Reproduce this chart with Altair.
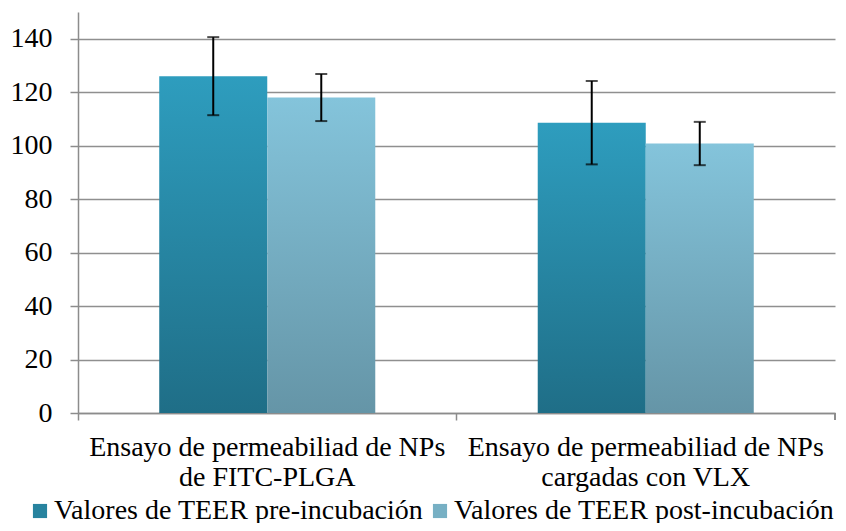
import altair as alt
import pandas as pd

categories = ["Ensayo de permeabiliad de NPs|de FITC-PLGA",
              "Ensayo de permeabiliad de NPs|cargadas con VLX"]
series = ["Valores de TEER pre-incubación", "Valores de TEER post-incubación"]
pre_values = [126.0, 108.6]
pre_errors = [14.6, 15.6]
post_values = [118.0, 100.8]
post_errors = [8.8, 8.1]

rows = []
for i, c in enumerate(categories):
    rows.append({"cat": c, "serie": series[0], "v": pre_values[i],
                 "lo": pre_values[i] - pre_errors[i], "hi": pre_values[i] + pre_errors[i]})
    rows.append({"cat": c, "serie": series[1], "v": post_values[i],
                 "lo": post_values[i] - post_errors[i], "hi": post_values[i] + post_errors[i]})
df = pd.DataFrame(rows)

FONT = "Liberation Serif"
FS = 28

x_enc = alt.X("cat:N", sort=categories, title=None,
              scale=alt.Scale(paddingInner=0, paddingOuter=0),
              axis=alt.Axis(labelExpr="split(datum.label, '|')", labelAngle=0,
                            labelFontSize=FS, labelLineHeight=30, labelPadding=13,
                            labelFont=FONT, labelColor="black", labelLimit=0,
                            bandPosition=0, tickSize=7, tickColor="#8c8c8c",
                            tickWidth=1.5, domainColor="#8c8c8c", domainWidth=1.5,
                            grid=False))
xo_enc = alt.XOffset("serie:N", sort=series,
                     scale=alt.Scale(domain=series, paddingInner=0, paddingOuter=0.752))
y_scale = alt.Scale(domain=[0, 150], nice=False)
y_enc = alt.Y("v:Q", scale=y_scale, title=None,
              axis=alt.Axis(values=[0, 20, 40, 60, 80, 100, 120, 140],
                            labelFontSize=FS, labelFont=FONT, labelColor="black",
                            labelPadding=18, tickSize=8, tickColor="#8c8c8c",
                            tickWidth=1.5, domainColor="#8c8c8c", domainWidth=1.5,
                            gridColor="#8f8f8f", gridWidth=1.5))

def grad(top, bottom):
    return alt.Gradient(gradient="linear",
                        stops=[alt.GradientStop(color=top, offset=0),
                               alt.GradientStop(color=bottom, offset=1)],
                        x1=0, x2=0, y1=0, y2=1)

base = alt.Chart(df)

bars_pre = base.transform_filter(alt.datum.serie == series[0]).mark_bar(
    color=grad("#2E9DBE", "#1F6E87")).encode(x=x_enc, xOffset=xo_enc, y=y_enc)
bars_post = base.transform_filter(alt.datum.serie == series[1]).mark_bar(
    color=grad("#84C4DB", "#6595A7")).encode(x=x_enc, xOffset=xo_enc, y=y_enc)

legend_layer = base.mark_square(opacity=0, size=0).encode(
    x=x_enc, xOffset=xo_enc, y=y_enc,
    color=alt.Color("serie:N", sort=series,
                    scale=alt.Scale(domain=series, range=["#27839F", "#77B0C4"]),
                    legend=alt.Legend(title=None, orient="none", direction="horizontal",
                                      legendX=-52, legendY=485, columns=2,
                                      symbolType="square", symbolSize=200,
                                      symbolOpacity=1, symbolStrokeWidth=0,
                                      labelFontSize=FS, labelFont=FONT,
                                      labelColor="black", labelLimit=0,
                                      labelOffset=0, columnPadding=2)))

err_rule = base.mark_rule(color="black", strokeWidth=2).encode(
    x=x_enc, xOffset=xo_enc,
    y=alt.Y("lo:Q", scale=y_scale), y2="hi:Q")
cap_lo = base.mark_tick(color="black", size=12, thickness=2, orient="horizontal").encode(
    x=x_enc, xOffset=xo_enc, y=alt.Y("lo:Q", scale=y_scale))
cap_hi = base.mark_tick(color="black", size=12, thickness=2, orient="horizontal").encode(
    x=x_enc, xOffset=xo_enc, y=alt.Y("hi:Q", scale=y_scale))

end_tick = alt.Chart(df).mark_rule(color="#8c8c8c", strokeWidth=1.5).encode(
    x=alt.value(757), y=alt.value(401), y2=alt.value(408))

chart = alt.layer(bars_pre, bars_post, legend_layer, err_rule, cap_lo, cap_hi, end_tick).properties(
    width=757, height=401,
    autosize=alt.AutoSizeParams(type="none"),
    padding={"left": 70, "top": 4, "right": 3, "bottom": 110},
    background="white",
).configure_view(stroke=None)

chart.save("out.html", embed_options={"renderer": "svg", "actions": False})
